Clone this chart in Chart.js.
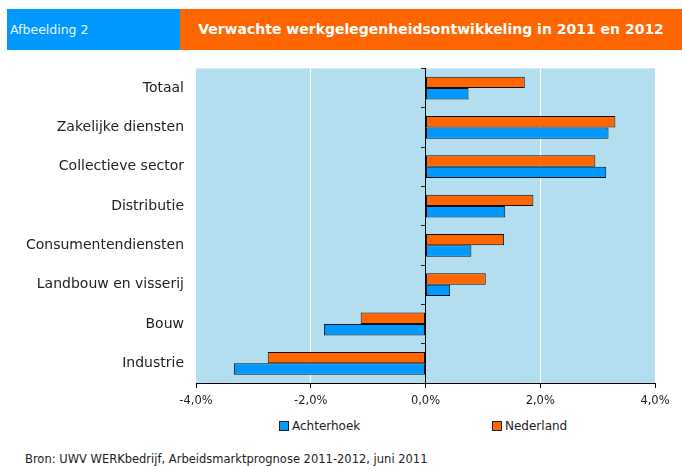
<!DOCTYPE html>
<html>
<head>
<meta charset="utf-8">
<script src="https://cdn.jsdelivr.net/npm/chart.js@4/dist/chart.umd.min.js"></script>
<style>
  body { margin: 0; background: #fff; font-family: "DejaVu Sans", Verdana, sans-serif; }
  #page { position: relative; width: 682px; height: 466px; overflow: hidden; }
  #hdrLeft { position: absolute; left: 7px; top: 9px; width: 173px; height: 41px; background: #0099FF;
    color: #e6f4ff; font-size: 12.5px; line-height: 41px; padding-left: 3px; box-sizing: border-box; }
  #hdrRight { position: absolute; left: 180px; top: 9px; width: 502px; height: 41px; background: #FF6600;
    color: #fff; font-weight: bold; font-size: 14px; line-height: 41px; text-align: center; }
  #wrap { position: absolute; left: 0; top: 56px; width: 682px; height: 360px; }
  #legend { position: absolute; top: 419px; left: 0; width: 682px; font-size: 12px; color: #222; }
  .item { position: absolute; top: 0; line-height: 14px; }
  .box { display: inline-block; width: 8px; height: 8px; border: 1px solid #222; margin-right: 3px; vertical-align: -1px; }
  #source { position: absolute; left: 25px; top: 452px; font-size: 11.5px; color: #222; }
</style>
</head>
<body>
<div id="page">
  <div id="hdrLeft">Afbeelding 2</div>
  <div id="hdrRight">Verwachte werkgelegenheidsontwikkeling in 2011 en 2012</div>
  <div id="wrap"><canvas id="chart"></canvas></div>
  <div id="legend"></div>
  <div id="source">Bron: UWV WERKbedrijf, Arbeidsmarktprognose 2011-2012, juni 2011</div>
</div>
<script>
const categories = ['Totaal', 'Zakelijke diensten', 'Collectieve sector', 'Distributie',
  'Consumentendiensten', 'Landbouw en visserij', 'Bouw', 'Industrie'];
const nederland = [1.73, 3.31, 2.96, 1.88, 1.37, 1.05, -1.13, -2.75];
const achterhoek = [0.75, 3.19, 3.15, 1.39, 0.80, 0.43, -1.77, -3.34];
const xTicks = [-4, -2, 0, 2, 4];

const BLUE = '#0099FF';
const ORANGE = '#FF6600';

// light blue plot background
const plotBg = {
    id: 'plotBg',
    beforeDraw(chart) {
        const a = chart.chartArea;
        const ctx = chart.ctx;
        ctx.save();
        ctx.fillStyle = '#B3DEF0';
        ctx.fillRect(a.left, a.top, a.right - a.left, a.bottom - a.top);
        ctx.restore();
    }
};

const ctx = document.getElementById('chart').getContext('2d');
new Chart(ctx, {
    type: 'bar',
    data: {
        labels: categories,
        datasets: [
            { label: 'Nederland', data: nederland, backgroundColor: ORANGE, borderColor: '#111', borderWidth: 1, borderSkipped: false },
            { label: 'Achterhoek', data: achterhoek, backgroundColor: BLUE, borderColor: '#111', borderWidth: 1, borderSkipped: false },
        ],
    },
    options: {
        indexAxis: 'y',
        responsive: true,
        maintainAspectRatio: false,
        animation: false,
        layout: { padding: { top: 1, right: 27, left: 0, bottom: 0 } },
        datasets: { bar: { barPercentage: 1, categoryPercentage: 0.58 } },
        plugins: {
            legend: { display: false },
            tooltip: { enabled: false },
        },
        scales: {
            x: {
                min: -4,
                max: 4,
                afterBuildTicks: (scale) => { scale.ticks = xTicks.map(v => ({ value: v })); },
                afterFit: (scale) => { scale.height = 33; },
                ticks: {
                    padding: 6,
                    color: '#222',
                    font: { family: 'DejaVu Sans', size: 11.5 },
                    callback: (v) => v.toFixed(1).replace('.', ',') + '%',
                },
                grid: {
                    color: (c) => {
                        const v = c.tick ? c.tick.value : null;
                        if (v === 0) return '#000';
                        if (v === -2 || v === 2) return '#fff';
                        return 'rgba(0,0,0,0)';
                    },
                    tickColor: '#000',
                    tickLength: 5,
                },
                border: { display: true, color: '#000', width: 1 },
            },
            y: {
                afterFit: (scale) => { scale.width = 196; },
                ticks: {
                    padding: 4,
                    color: '#222',
                    font: { family: 'DejaVu Sans', size: 14 },
                },
                grid: { display: false },
                border: { display: false },
            },
            y2: {
                type: 'category',
                labels: categories,
                position: { x: 0 },
                ticks: { display: false },
                grid: { drawOnChartArea: false, drawTicks: true, tickLength: 4, tickColor: '#222', offset: true },
                border: { display: true, color: '#000', width: 1 },
            },
        },
    },
    plugins: [plotBg],
});

// legend below the axis
const legendItems = [
    { text: 'Achterhoek', color: BLUE, left: 279 },
    { text: 'Nederland', color: ORANGE, left: 492 },
];
const legend = document.getElementById('legend');
legendItems.forEach(it => {
    const el = document.createElement('div');
    el.className = 'item';
    el.style.left = it.left + 'px';
    el.innerHTML = '<span class="box" style="background:' + it.color + '"></span>' + it.text;
    legend.appendChild(el);
});
</script>
</body>
</html>
